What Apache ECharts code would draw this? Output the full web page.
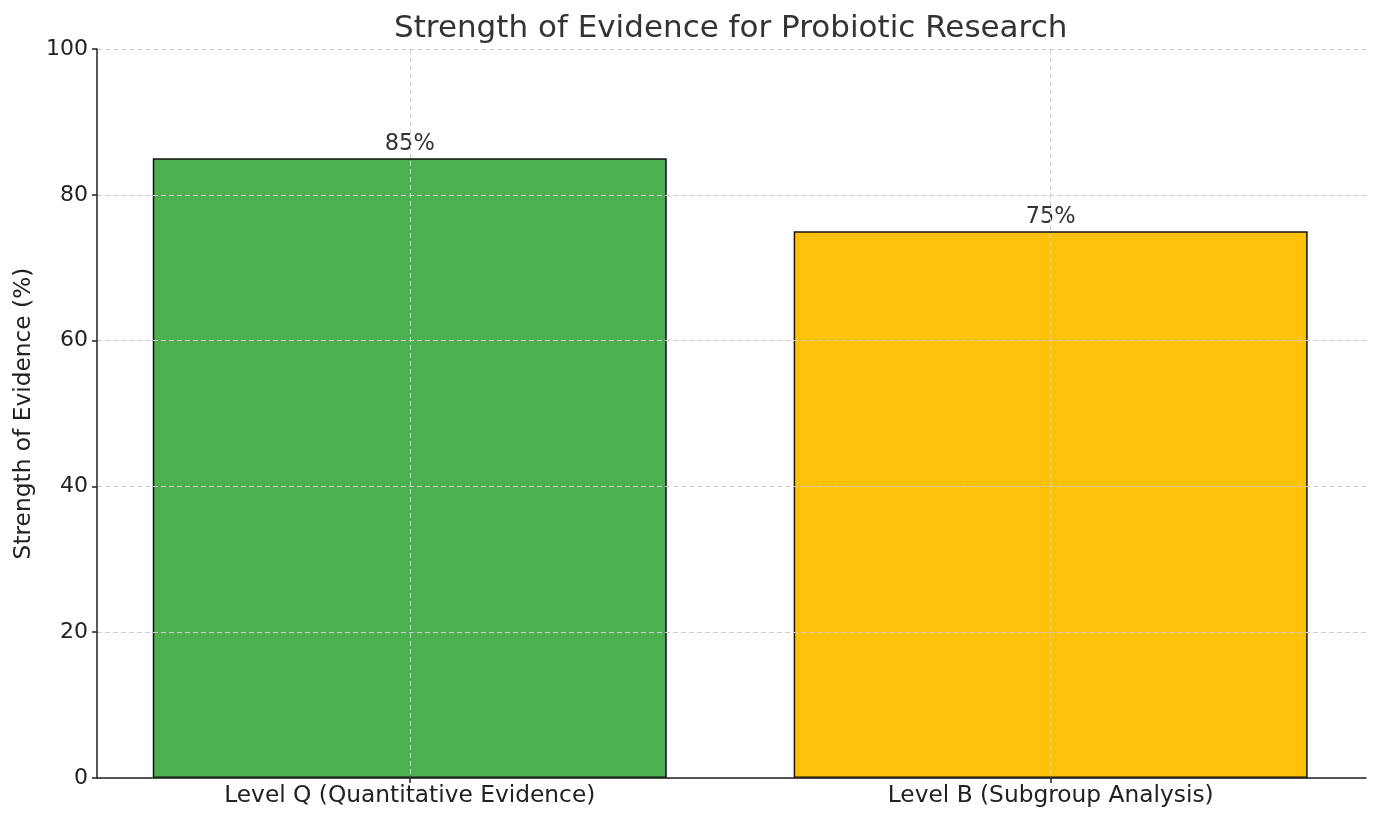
<!DOCTYPE html>
<html>
<head>
<meta charset="utf-8">
<script src="https://cdn.jsdelivr.net/npm/echarts@6/dist/echarts.min.js"></script>
<style>
  html, body { margin: 0; padding: 0; background: #fff; }
  #chart { width: 1379px; height: 822px; }
</style>
</head>
<body>
<div id="chart"></div>
<script>
const categories = ["Level Q (Quantitative Evidence)", "Level B (Subgroup Analysis)"];
const values = [85, 75];
const barColors = ["#4CAF50", "#FFC107"];
const yTicks = [0, 20, 40, 60, 80, 100];

const chart = echarts.init(document.getElementById("chart"));
const font = "DejaVu Sans";

// x positions 0,1 like a matplotlib bar chart with 5% margins
const points = values.map((v, i) => ({
  value: [i, v],
  itemStyle: { color: barColors[i] },
}));

chart.setOption({
  animation: false,
  title: {
    text: "Strength of Evidence for Probiotic Research",
    left: 389,
    top: 8,
    textStyle: { fontFamily: font, fontSize: 31, fontWeight: "normal", color: "#333" },
  },
  grid: { left: 97, right: 13, top: 49, bottom: 44 },
  xAxis: {
    type: "value",
    min: -0.488,
    max: 1.492,
    z: 3,
    axisLine: { show: true, onZero: false, lineStyle: { color: "#222", width: 1.5 } },
    axisTick: {
      show: true,
      customValues: [0, 1],
      length: 5,
      lineStyle: { color: "#222", width: 1.5 },
    },
    axisLabel: {
      customValues: [0, 1],
      formatter: (v) => categories[Math.round(v)] || "",
      fontFamily: font,
      fontSize: 23.3,
      color: "#222",
      margin: 6,
    },
    splitLine: {
      show: true,
      lineStyle: { type: [5, 3], color: "#ccc", width: 1 },
    },
  },
  yAxis: {
    type: "value",
    min: 0,
    max: 100,
    interval: 20,
    z: 3,
    name: "Strength of Evidence (%)",
    nameLocation: "middle",
    nameGap: 62,
    nameTextStyle: { fontFamily: font, fontSize: 23.3, color: "#222" },
    axisLine: { show: true, onZero: false, lineStyle: { color: "#222", width: 1.5 } },
    axisTick: { show: true, length: 5, lineStyle: { color: "#222", width: 1.5 } },
    axisLabel: {
      fontFamily: font,
      fontSize: 22,
      color: "#222",
      margin: 9,
      formatter: (v) => (yTicks.includes(v) ? String(v) : ""),
    },
    splitLine: { show: true, lineStyle: { type: [5, 3], color: "#ccc", width: 1 } },
  },
  series: [
    {
      type: "bar",
      data: points,
      barWidth: 514,
      z: 1,
      itemStyle: { borderColor: "#111", borderWidth: 1.5 },
      label: {
        show: true,
        position: "top",
        distance: 3,
        formatter: (p) => p.value[1] + "%",
        fontFamily: font,
        fontSize: 22.5,
        color: "#333",
      },
    },
  ],
});
</script>
</body>
</html>
